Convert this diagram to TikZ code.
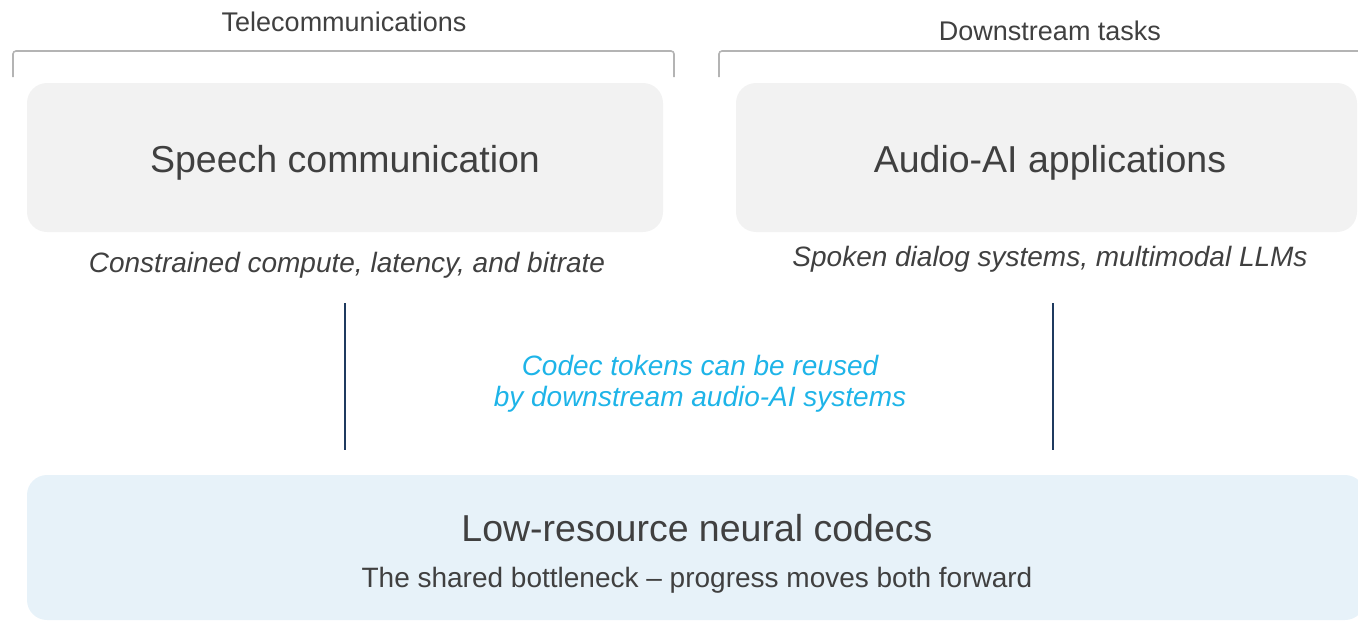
\documentclass[tikz,border=0pt]{standalone}
\usepackage{fontspec}
\setmainfont{Liberation Sans}
\definecolor{txt}{HTML}{404040}
\definecolor{boxgray}{HTML}{F2F2F2}
\definecolor{boxblue}{HTML}{E7F2F9}
\definecolor{cyantxt}{HTML}{1EB4E8}
\definecolor{navy}{HTML}{1F3A5F}
\definecolor{brack}{HTML}{B4B4B4}
\tikzset{
  panel/.style={rounded corners=20pt, inner sep=0pt, draw=none},
  title/.style={text=txt, font=\fontsize{37.5}{44}\selectfont, inner sep=0pt, anchor=base},
  label/.style={text=txt, font=\fontsize{27}{32}\selectfont, inner sep=0pt},
  sub/.style={text=txt, font=\fontsize{28}{33}\selectfont\itshape, inner sep=0pt},
  note/.style={text=cyantxt, font=\fontsize{28}{31}\selectfont\itshape, inner sep=0pt, align=center},
  bracket/.style={draw=brack, line width=1.6pt, rounded corners=3pt},
  link/.style={draw=navy, line width=1.8pt},
}
\begin{document}
\begin{tikzpicture}[x=1pt,y=-1pt]
\useasboundingbox (0,0) rectangle (1358,621);
\clip (0,0) rectangle (1358,621);
% group labels and brackets
\node[label] (tele) at (344,22) {Telecommunications};
\node[label] (down) at (1050,31) {Downstream tasks};
\draw[bracket] (13,77) |- (674,51) -- (674,77);
\draw[bracket] (719,77) |- (1380,51);
% top panels
\node[panel, fill=boxgray, minimum width=636pt, minimum height=149pt] (speech) at (345,157.5) {};
\node[title] (speecht) at (345,172) {Speech communication};
\node[panel, fill=boxgray, minimum width=621pt, minimum height=149pt] (audio) at (1046.5,157.5) {};
\node[title] (audiot) at (1050,172) {Audio-AI applications};
% subtitles
\node[sub] (subl) at (347,265) {Constrained compute, latency, and bitrate};
\node[sub] (subr) at (1050,259) {Spoken dialog systems, multimodal LLMs};
% vertical links
\coordinate (l1) at (345,303);
\coordinate (l2) at (345,450);
\coordinate (r1) at (1053,303);
\coordinate (r2) at (1053,450);
\draw[link] (l1) -- (l2);
\draw[link] (r1) -- (r2);
% note
\node[note] (note) at (700,383.5) {Codec tokens can be reused\\by downstream audio-AI systems};
% bottom panel
\node[panel, fill=boxblue, minimum width=1338pt, minimum height=145pt] (codec) at (696,547.5) {};
\node[title] (codect) at (697,541) {Low-resource neural codecs};
\node[label, font=\fontsize{28}{33}\selectfont] (codecs) at (697,580) {The shared bottleneck – progress moves both forward};
\end{tikzpicture}
\end{document}
